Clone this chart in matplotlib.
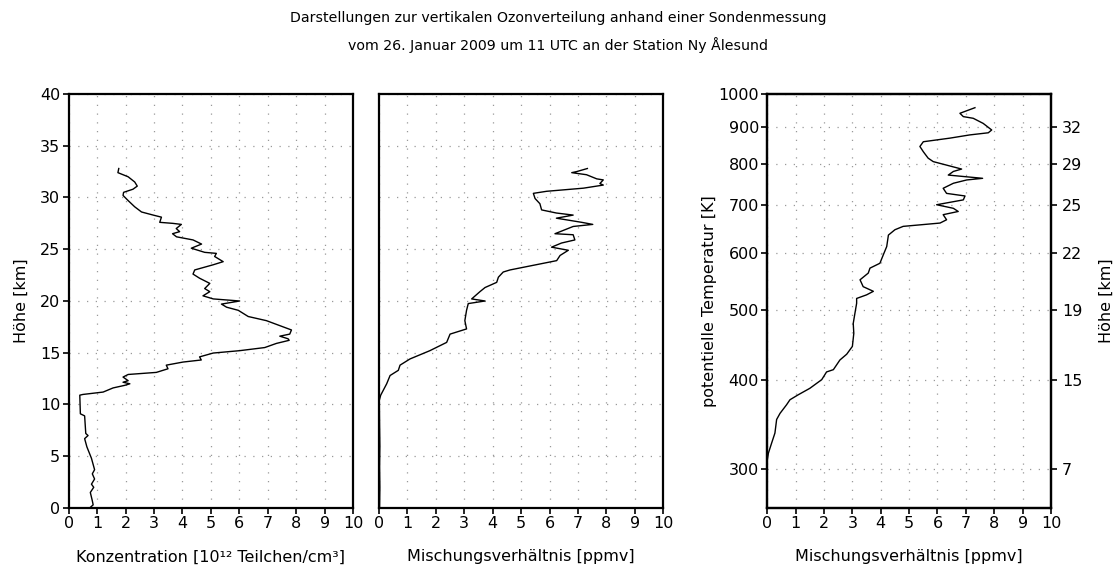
import matplotlib
matplotlib.use("Agg")
import matplotlib.pyplot as plt
import numpy as np
from matplotlib.ticker import FixedLocator, NullFormatter, FixedFormatter

# ---------------- data ----------------
# Panel 1: ozone number concentration [10^12 /cm3] vs height [km]
conc = [0.76, 0.86, 0.83, 0.76, 0.88, 0.80, 0.91, 0.83, 0.91, 0.80, 0.64, 0.56, 0.68,
        0.60, 0.56, 0.41, 0.39, 0.50, 1.21, 1.56, 1.97, 2.15, 1.91, 2.09, 1.91, 2.09,
        3.08, 3.49, 3.43, 4.02, 4.66, 4.60, 5.08, 6.01, 6.89, 7.30, 7.75, 7.71, 7.42,
        7.77, 7.83, 6.95, 6.31, 5.96, 5.55, 5.37, 6.01, 5.08, 4.72, 4.96, 4.78, 4.96,
        4.60, 4.37, 4.43, 5.08, 5.43, 5.13, 5.19, 4.78, 4.31, 4.67, 4.37, 3.79, 3.65,
        3.90, 3.78, 3.96, 3.66, 3.20, 3.26, 2.97, 2.56, 2.32, 2.09, 1.91, 1.93, 2.26,
        2.41, 2.32, 2.09, 1.73, 1.76]
conc_h = [0.06, 0.3, 0.7, 1.5, 2.0, 2.3, 2.8, 3.3, 3.7, 4.8, 5.9, 6.7, 7.0,
          7.2, 8.9, 9.1, 10.9, 10.97, 11.2, 11.6, 11.85, 12.0, 12.15, 12.3, 12.65, 12.9,
          13.1, 13.45, 13.8, 14.1, 14.3, 14.6, 14.97, 15.2, 15.5, 15.9, 16.2, 16.35, 16.6,
          16.8, 17.2, 18.1, 18.5, 19.1, 19.4, 19.7, 20.0, 20.2, 20.5, 20.9, 21.2, 21.7,
          22.2, 22.6, 23.0, 23.5, 23.8, 24.3, 24.6, 24.7, 25.1, 25.5, 25.9, 26.2, 26.5,
          26.7, 27.0, 27.4, 27.5, 27.6, 28.1, 28.3, 28.6, 29.1, 29.7, 30.2, 30.5, 30.8,
          31.1, 31.5, 32.0, 32.4, 32.8]

# Panel 2: mixing ratio [ppmv] vs height [km]
mix = [0.02, 0.03, 0.02, 0.03, 0.02, 0.01, 0.06, 0.27, 0.39, 0.68, 0.74, 1.09, 1.79,
       2.38, 2.50, 3.08, 3.02, 3.08, 3.14, 3.73, 3.26, 3.55, 3.73, 4.14, 4.20, 4.37,
       4.61, 6.07, 6.25, 6.37, 6.66, 6.07, 6.42, 6.89, 6.83, 6.19, 6.83, 7.52, 7.13,
       6.24, 6.83, 6.24, 5.72, 5.66, 5.49, 5.43, 5.90, 7.19, 7.89, 7.77, 7.89, 7.66,
       7.30, 6.78, 6.95, 7.33]
mix_h = [0.0, 2.0, 4.0, 6.0, 8.0, 10.4, 10.9, 12.0, 12.8, 13.3, 13.8, 14.4, 15.2,
         16.0, 16.8, 17.3, 18.1, 19.1, 19.75, 20.0, 20.2, 20.9, 21.3, 21.8, 22.3, 22.8,
         23.0, 23.8, 23.9, 24.4, 24.9, 25.2, 25.6, 25.9, 26.4, 26.5, 27.2, 27.4, 27.6,
         28.0, 28.3, 28.5, 28.8, 29.4, 29.9, 30.4, 30.6, 30.9, 31.2, 31.35, 31.7, 31.8,
         32.2, 32.4, 32.5, 32.8]

# Panel 3: mixing ratio [ppmv] vs potential temperature [K]
mix_t = [0.0, 0.0, 0.04, 0.15, 0.27, 0.33, 0.45, 0.68, 0.80, 1.09, 1.50, 1.92, 2.09,
         2.33, 2.56, 2.80, 3.00, 3.05, 3.03, 3.09, 3.15, 3.15, 3.50, 3.74, 3.38, 3.27,
         3.56, 3.62, 3.97, 4.09, 4.21, 4.27, 4.50, 4.79, 6.09, 6.32, 6.20, 6.73, 6.56,
         5.97, 6.91, 6.97, 6.32, 6.20, 6.56, 7.03, 7.59, 6.38, 6.56, 6.85, 6.32, 5.85,
         5.67, 5.50, 5.38, 5.50, 6.44, 7.14, 7.79, 7.91, 7.61, 7.26, 6.91, 6.79, 7.32]
theta = [265, 309, 316, 326, 337, 352, 359, 369, 375, 381, 389, 400, 410,
         413, 426, 434, 445, 464, 479, 495, 511, 519, 525, 531, 539, 551,
         563, 572, 581, 597, 613, 636, 647, 654, 661, 668, 679, 686, 693,
         701, 712, 721, 727, 739, 751, 759, 763, 771, 780, 786, 796, 805,
         814, 831, 845, 858, 868, 877, 883, 891, 910, 925, 930, 940, 957]

x_ticks = list(range(0, 11))
h_ticks = list(range(0, 41, 5))
theta_ticks = [300, 400, 500, 600, 700, 800, 900, 1000]
theta_right = [300, 400, 500, 600, 700, 800, 900]
height_right_labels = ["7", "15", "19", "22", "25", "29", "32"]

title_line1 = "Darstellungen zur vertikalen Ozonverteilung anhand einer Sondenmessung"
title_line2 = "vom 26. Januar 2009 um 11 UTC an der Station Ny Ålesund"

# ---------------- figure ----------------
plt.rcParams['font.family'] = ['DejaVu Sans']
fig = plt.figure(figsize=(11.17, 5.70), dpi=100)

FS = 11.5
grid_kw = dict(color='#999999', linestyle=(0, (1, 6)), linewidth=0.9)


def style(ax):
    for s in ax.spines.values():
        s.set_linewidth(1.6)
    ax.set_xlim(0, 10)
    ax.set_xticks(x_ticks)
    ax.tick_params(axis='both', which='major', direction='out', length=4, width=1.2,
                   labelsize=FS, pad=2)
    ax.grid(True, which='major', **grid_kw)


ax1 = fig.add_axes([0.0615, 0.1088, 0.2547, 0.7263])
ax2 = fig.add_axes([0.3393, 0.1088, 0.2545, 0.7263])
ax3 = fig.add_axes([0.6869, 0.1088, 0.2540, 0.7263])

ax1.plot(conc, conc_h, color='black', linewidth=1.0)
style(ax1)
ax1.set_ylim(0, 40)
ax1.set_yticks(h_ticks)
ax1.set_ylabel("Höhe [km]", fontsize=FS, labelpad=8)
ax1.set_xlabel("Konzentration [10¹² Teilchen/cm³]", fontsize=FS, labelpad=13)

ax2.plot(mix, mix_h, color='black', linewidth=1.0)
style(ax2)
ax2.set_ylim(0, 40)
ax2.set_yticks(h_ticks)
ax2.tick_params(axis='y', labelleft=False, length=0)
ax2.set_xlabel("Mischungsverhältnis [ppmv]", fontsize=FS, labelpad=13)

ax3.plot(mix_t, theta, color='black', linewidth=1.0)
ax3.set_yscale('log')
ax3.set_ylim(265, 1000)
style(ax3)
ax3.yaxis.set_major_locator(FixedLocator(theta_ticks))
ax3.yaxis.set_major_formatter(FixedFormatter([str(t) for t in theta_ticks]))
ax3.yaxis.set_minor_locator(FixedLocator([]))
ax3.yaxis.set_minor_formatter(NullFormatter())
ax3.set_ylabel("potentielle Temperatur [K]", fontsize=FS, labelpad=1)
ax3.set_xlabel("Mischungsverhältnis [ppmv]", fontsize=FS, labelpad=13)

ax3r = ax3.twinx()
ax3r.set_yscale('log')
ax3r.set_ylim(265, 1000)
ax3r.yaxis.set_major_locator(FixedLocator(theta_right))
ax3r.yaxis.set_major_formatter(FixedFormatter(height_right_labels))
ax3r.yaxis.set_minor_locator(FixedLocator([]))
ax3r.yaxis.set_minor_formatter(NullFormatter())
ax3r.tick_params(axis='y', direction='out', length=4, width=1.2, labelsize=FS, pad=4)
ax3r.set_ylabel("Höhe [km]", fontsize=FS, labelpad=12)
for s in ax3r.spines.values():
    s.set_linewidth(1.6)

fig.text(0.5, 1 - 18 / 570, title_line1, ha='center', va='center', fontsize=10.2)
fig.text(0.5, 1 - 45 / 570, title_line2, ha='center', va='center', fontsize=10.2)

fig.savefig("out.png", dpi=100)
